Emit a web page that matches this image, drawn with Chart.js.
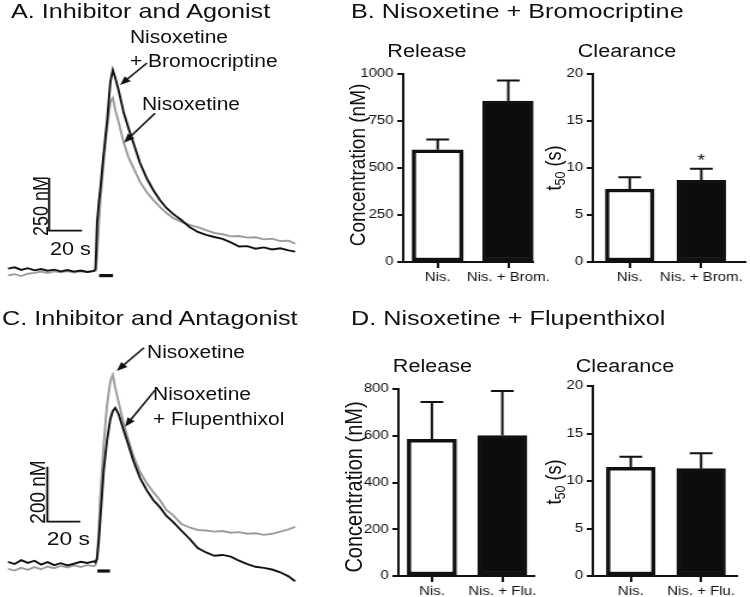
<!DOCTYPE html>
<html>
<head>
<meta charset="utf-8">
<script src="https://cdn.jsdelivr.net/npm/chart.js@4.4.1/dist/chart.umd.min.js"></script>
<style>
  body { margin: 0; background: #fff; }
  #fig { position: absolute; left: 0; top: 0; width: 625px; height: 597px;
         transform: scaleX(1.2); transform-origin: 0 0;
         font-family: "Liberation Sans", Arial, sans-serif; color: #111; }
  .box { position: absolute; }
  .txt { position: absolute; line-height: 1; white-space: nowrap; }
  .ttl { font-size: 21px; }
  .sub { font-size: 18px; transform: translateX(-50%); }
  .lab { font-size: 17.5px; }
  .rot { transform: translate(-50%, -50%) rotate(-90deg); }
  .rot sub { font-size: 70%; vertical-align: -0.25em; }
</style>
</head>
<body>
<div id="fig">
  <div class="box" style="left:0;top:40px"><canvas id="traceA" width="250" height="250"></canvas></div>
  <div class="box" style="left:0;top:330px"><canvas id="traceC" width="250" height="265"></canvas></div>
  <div class="box" style="left:290.8px;top:64px"><canvas id="bRel" width="170" height="233"></canvas></div>
  <div class="box" style="left:449.2px;top:64px"><canvas id="bClr" width="175" height="233"></canvas></div>
  <div class="box" style="left:286.7px;top:379px"><canvas id="dRel" width="173" height="232"></canvas></div>
  <div class="box" style="left:449.2px;top:376px"><canvas id="dClr" width="175" height="235"></canvas></div>

  <div class="txt ttl" style="left:9.2px;top:0.2px">A. Inhibitor and Agonist</div>
  <div class="txt ttl" style="left:292.5px;top:0.2px">B. Nisoxetine + Bromocriptine</div>
  <div class="txt ttl" style="left:1.7px;top:307.2px">C. Inhibitor and Antagonist</div>
  <div class="txt ttl" style="left:292.5px;top:307.2px">D. Nisoxetine + Flupenthixol</div>

  <div class="txt sub" style="left:355.8px;top:41.8px">Release</div>
  <div class="txt sub" style="left:522.5px;top:41.8px">Clearance</div>
  <div class="txt sub" style="left:360.4px;top:356.8px">Release</div>
  <div class="txt sub" style="left:520.8px;top:356.5px">Clearance</div>

  <div class="txt lab" style="left:108.3px;top:28.6px">Nisoxetine</div>
  <div class="txt lab" style="left:108.3px;top:52.6px">+ Bromocriptine</div>
  <div class="txt lab" style="left:118.3px;top:95.6px">Nisoxetine</div>
  <div class="txt lab" style="left:122.5px;top:343.6px">Nisoxetine</div>
  <div class="txt lab" style="left:127.5px;top:385.6px">Nisoxetine</div>
  <div class="txt lab" style="left:127.5px;top:410.6px">+ Flupenthixol</div>

  <div class="txt rot" style="left:33.75px;top:206px;font-size:18px">250 nM</div>
  <div class="txt" style="left:41.7px;top:239.8px;font-size:18px">20 s</div>
  <div class="txt rot" style="left:31.25px;top:491.5px;font-size:19px">200 nM</div>
  <div class="txt" style="left:39px;top:528.9px;font-size:19px">20 s</div>

  <div class="txt rot" style="left:297.5px;top:165px;font-size:19px">Concentration (nM)</div>
  <div class="txt rot" style="left:295px;top:487px;font-size:20px">Concentration (nM)</div>
  <div class="txt rot" style="left:462.5px;top:168px;font-size:18px">t<sub>50</sub> (s)</div>
  <div class="txt rot" style="left:462.5px;top:482px;font-size:18px">t<sub>50</sub> (s)</div>
</div>

<script>
// ---------------- data (time in s, concentration in nM) ----------------
const secs = [0,4,8,12,16,20,24,28,32,36,40,44,48,52,53,54,55,56,58,60,62,63.5,65,67,70,73,76,80,84,88,92,96,100,105,110,115,120,125,130,135,140,145,150,155,160,165,170,174];

const agonistNisBrom = [16,22,10,18,8,14,6,11,3,9,2,7,0,5, 12,236,325,396,561,708,896,953,915,858, 755,679,608,514,443,387,340,302,274, 245,212,189,175,165,156,140,120,122,110,116,106,112,102,96];
const agonistNis = [-16,-10,-19,-8,-4,2,-5,3,-1,4,-3,3,0,4, 6,80,222,340,528,679,802,821,764,708, 613,542,491,425,377,340,307,278,255, 236,222,212,198,184,178,168,170,162,164,154,157,146,148,134];

const antagNisFlu = [8,0,14,4,12,-2,7,-4,3,-5,1,8,4,10, 6,20,85,170,342,451,528,557,568,546, 488,433,375,313,269,233,207,175,153, 122,92,58,42,30,33,27,12,0,-10,-14,-20,-30,-45,-63];
const antagNis = [-18,-24,-14,-21,-11,-19,-9,-15,-7,-13,-5,-11,-4,-8, -4,30,124,251,440,579,666,688,641,590, 513,451,393,335,295,262,233,197,178, 146,133,124,122,118,120,114,116,110,112,106,110,118,126,135];

const bromCats = ['Nis.', 'Nis. + Brom.'];
const fluCats = ['Nis.', 'Nis. + Flu.'];

const bromRelease = [597, 856];
const bromReleaseErr = [55, 110];
const bromT50 = [7.77, 8.69];
const bromT50Err = [1.24, 1.24];

const fluRelease = [585, 601];
const fluReleaseErr = [159, 190];
const fluT50 = [11.44, 11.3];
const fluT50Err = [1.12, 1.61];

// scale bars and stimulation bars (data units)
const scaleA = {t: 24.85, c: 195, dt: 20, dc: 250};
const scaleC = {t: 23.8, c: 154, dt: 20, dc: 200};
const stimA = {t0: 55.2, t1: 63.6, c: -17};
const stimC = {t0: 54.1, t1: 61.8, c: -25.5};

const INK = '#111';
const GREY = '#9c9c9c';
Chart.defaults.font.family = '"Liberation Sans", Arial, sans-serif';
Chart.defaults.color = INK;
Chart.defaults.animation = false;

//---------------------------------- trace charts ----------------------------------//
const arrowPlugin = {
    id: 'arrows',
    afterDatasetsDraw(chart, args, opts) {
        const {ctx, scales: {x, y}} = chart;
        ctx.save();
        ctx.strokeStyle = INK; ctx.fillStyle = INK; ctx.lineWidth = 1.6;
        (opts.list || []).forEach(a => {
            const x0 = x.getPixelForValue(a[0]), y0 = y.getPixelForValue(a[1]);
            const x1 = x.getPixelForValue(a[2]), y1 = y.getPixelForValue(a[3]);
            const ang = Math.atan2(y1 - y0, x1 - x0), L = 9, W = 3.6;
            const c = Math.cos(ang), s = Math.sin(ang);
            ctx.beginPath();
            ctx.moveTo(x0, y0);
            ctx.lineTo(x1 - L * 0.8 * c, y1 - L * 0.8 * s);
            ctx.stroke();
            ctx.beginPath();
            ctx.moveTo(x1, y1);
            ctx.lineTo(x1 - L * c + W * s, y1 - L * s - W * c);
            ctx.lineTo(x1 - L * c - W * s, y1 - L * s + W * c);
            ctx.closePath();
            ctx.fill();
        });
        ctx.restore();
    }
};

function pairs(vals) {
    return secs.map((t, i) => ({x: t, y: vals[i]}));
}

function traceChart(id, black, grey, sb, stim, yMin, yMax, arrows) {
    return new Chart(document.getElementById(id), {
        type: 'line',
        data: {
            datasets: [
                {data: pairs(black), borderColor: INK, borderWidth: 1.9},
                {data: pairs(grey), borderColor: GREY, borderWidth: 1.9},
                {data: [{x: sb.t, y: sb.c + sb.dc}, {x: sb.t, y: sb.c}, {x: sb.t + sb.dt, y: sb.c}],
                 borderColor: INK, borderWidth: 1.8},
                {data: [{x: stim.t0, y: stim.c}, {x: stim.t1, y: stim.c}], borderColor: INK, borderWidth: 3.2}
            ]
        },
        options: {
            responsive: false,
            elements: {point: {radius: 0}, line: {tension: 0, borderCapStyle: 'butt'}},
            layout: {padding: 0},
            scales: {
                x: {type: 'linear', display: false, min: -4.848, max: 176.97},
                y: {type: 'linear', display: false, min: yMin, max: yMax}
            },
            plugins: {legend: {display: false}, tooltip: {enabled: false}, arrows: {list: arrows}}
        },
        plugins: [arrowPlugin]
    });
}

traceChart('traceA', agonistNisBrom, agonistNis, scaleA, stimA, -84.9, 1094.3,
    [[84.2, 986, 67.9, 882], [89.1, 749, 70.3, 610]]);
traceChart('traceC', antagNisFlu, antagNis, scaleC, stimC, -112.8, 851.8,
    [[82.4, 787, 65.9, 703], [89.1, 633, 70.9, 500]]);

//---------------------------------- bar charts ----------------------------------//
const errPlugin = {
    id: 'errbars',
    afterDatasetsDraw(chart, args, opts) {
        const {ctx, scales: {x, y}} = chart;
        const pts = chart.data.datasets[0].data;
        ctx.save();
        ctx.strokeStyle = INK; ctx.lineWidth = 2;
        pts.forEach((p, i) => {
            const px = x.getPixelForValue(p.x);
            const y0 = y.getPixelForValue(p.y), y1 = y.getPixelForValue(p.y + opts.err[i]);
            ctx.beginPath();
            ctx.moveTo(px, y0); ctx.lineTo(px, y1);
            ctx.moveTo(px - 9.5, y1); ctx.lineTo(px + 9.5, y1);
            ctx.stroke();
        });
        if (opts.star) {
            ctx.fillStyle = INK;
            ctx.font = '16px "Liberation Sans", Arial, sans-serif';
            ctx.textAlign = 'center';
            ctx.fillText('*', x.getPixelForValue(opts.star[0]), y.getPixelForValue(opts.star[1]) + 9);
        }
        ctx.restore();
    }
};

function barChart(id, cats, vals, errs, o) {
    return new Chart(document.getElementById(id), {
        type: 'bar',
        data: {
            datasets: [{
                data: vals.map((v, i) => ({x: i + 1, y: v})),
                backgroundColor: ['#fff', '#0d0d0d'],
                borderColor: INK,
                borderWidth: 3.5,
                borderSkipped: false,
                barThickness: o.bw
            }]
        },
        options: {
            responsive: false,
            layout: {padding: {top: 10, right: o.pr, bottom: 0, left: 0}, autoPadding: false},
            scales: {
                x: {
                    type: 'linear', min: o.xmin, max: o.xmax, offset: false,
                    afterBuildTicks: s => { s.ticks = [{value: 1}, {value: 2}]; },
                    afterFit: s => { s.height = 35; s.paddingLeft = 0; s.paddingRight = 0; },
                    ticks: {callback: v => cats[v - 1], font: {size: 12.5}, padding: 2, maxRotation: 0, autoSkip: false},
                    grid: {offset: false, drawOnChartArea: false, tickLength: 6, lineWidth: 2, color: INK},
                    border: {color: INK, width: 2}
                },
                y: {
                    min: 0, max: o.ymax,
                    afterFit: s => { s.width = 45; s.paddingTop = 0; s.paddingBottom = 0; },
                    ticks: {stepSize: o.step, font: {size: 12.5}, padding: 3, callback: v => String(v)},
                    grid: {drawOnChartArea: false, tickLength: 5, lineWidth: 2, color: INK},
                    border: {color: INK, width: 2}
                }
            },
            plugins: {legend: {display: false}, tooltip: {enabled: false}, errbars: {err: errs, star: o.star}}
        },
        plugins: [errPlugin]
    });
}

barChart('bRel', bromCats, bromRelease, bromReleaseErr,
    {ymax: 1000, step: 250, xmin: 0.512, xmax: 2.354, bw: 42.5, pr: 16.6});
barChart('bClr', bromCats, bromT50, bromT50Err,
    {ymax: 20, step: 5, xmin: 0.484, xmax: 2.607, bw: 40.5, pr: 3.4, star: [2, 11.2]});
barChart('dRel', fluCats, fluRelease, fluReleaseErr,
    {ymax: 800, step: 200, xmin: 0.525, xmax: 2.441, bw: 41, pr: 15.5});
barChart('dClr', fluCats, fluT50, fluT50Err,
    {ymax: 20, step: 5, xmin: 0.46, xmax: 2.505, bw: 40.5, pr: 10.2});
</script>
</body>
</html>
